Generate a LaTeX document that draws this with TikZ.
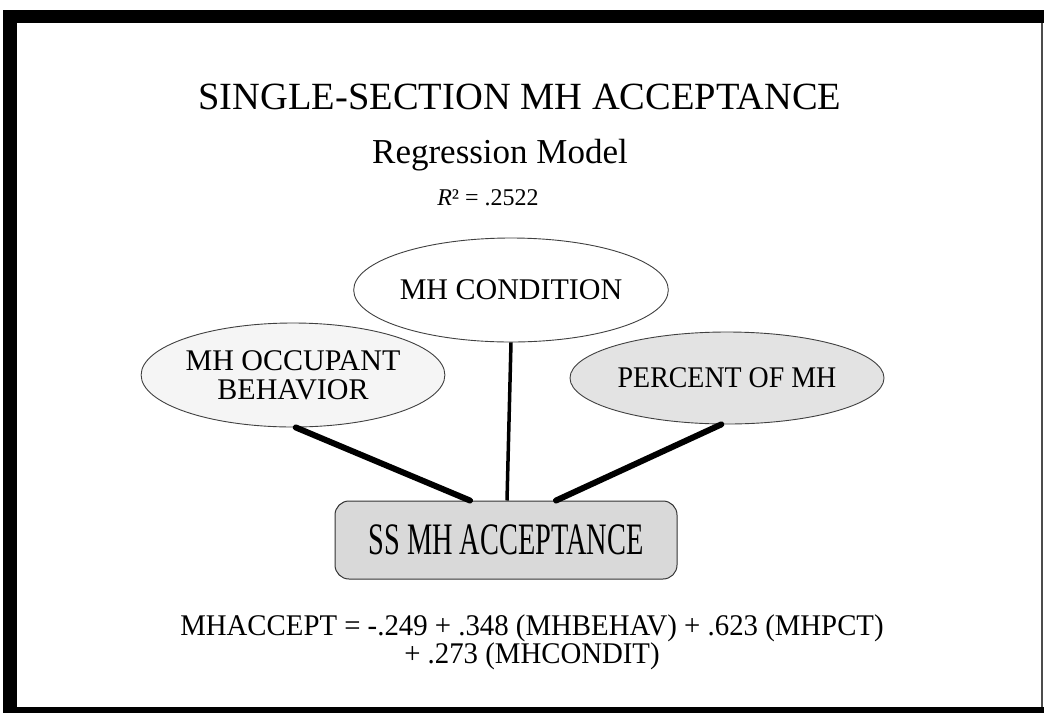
\documentclass[tikz,border=0pt]{standalone}
\usepackage{fontspec}
\setmainfont{Liberation Serif}
\newfontfamily\narrowserif[FakeStretch=0.63]{Liberation Serif}
\newfontfamily\slimserif[FakeStretch=0.93]{Liberation Serif}
\newfontfamily\eqserif[FakeStretch=0.96]{Liberation Serif}
\usetikzlibrary{shapes.geometric,calc}

\tikzset{
  oval/.style={ellipse, draw=black!75, line width=0.9pt, inner sep=0pt,
    align=center, font=\fontsize{30}{29}\selectfont},
  keybox/.style={rectangle, rounded corners=14pt, draw=black!80, line width=1pt,
    fill=gray!30, inner sep=0pt, minimum width=342pt, minimum height=78pt,
    font=\narrowserif\fontsize{45}{48}\selectfont},
  thickline/.style={line width=6pt, line cap=round},
  thinline/.style={line width=3.5pt},
  frameband/.style={fill=black, draw=none}
}

\begin{document}
\begin{tikzpicture}[x=1pt,y=-1pt]
  % page area
  \useasboundingbox (0,0) rectangle (1044,713);
  \fill[white] (0,0) rectangle (1044,713);

  % heavy frame: top, left and bottom bands, thin right edge
  \fill[frameband] (3,10) rectangle (1044,23);
  \fill[frameband] (3,10) rectangle (17,713);
  \fill[frameband] (3,707) rectangle (1044,713);
  \fill[black!70] (1041,23) rectangle (1043,707);

  % headings
  \node[anchor=base] (title) at (520,109) {\fontsize{38.5}{40}\selectfont SINGLE-SECTION MH ACCEPTANCE};
  \node[anchor=base] (sub) at (500,163) {\fontsize{35}{38}\selectfont Regression Model};
  \node[anchor=base] (rsq) at (488,205) {\fontsize{24}{26}\selectfont \textit{R}² = .2522};

  % predictor ovals
  \node[oval, minimum width=292pt, minimum height=104pt] (cond) at (511,290) {MH CONDITION};
  \node[oval, fill=gray!8, minimum width=286pt, minimum height=104pt] (occ) at (293,375)
    {MH OCCUPANT\\BEHAVIOR};
  \node[oval, fill=gray!22, minimum width=314pt, minimum height=92pt] (pct) at (727,378)
    {\slimserif PERCENT OF MH};

  % outcome box
  \node[keybox] (acc) at (506,540) {SS MH ACCEPTANCE};

  % connectors
  \coordinate (accL) at ($(acc.north)+(-36,0)$);
  \coordinate (accM) at ($(acc.north)+(1,0)$);
  \coordinate (accR) at ($(acc.north)+(50,0)$);
  \draw[thickline] (occ.-87) -- (accL);
  \draw[thinline] (cond.south) -- (accM);
  \draw[thickline] (pct.-97) -- (accR);

  % fitted equation
  \node[align=center, font=\eqserif\fontsize{30}{27}\selectfont] (eq) at (532,642)
    {MHACCEPT = -.249 + .348 (MHBEHAV) + .623 (MHPCT)\\+ .273 (MHCONDIT)};
\end{tikzpicture}
\end{document}
